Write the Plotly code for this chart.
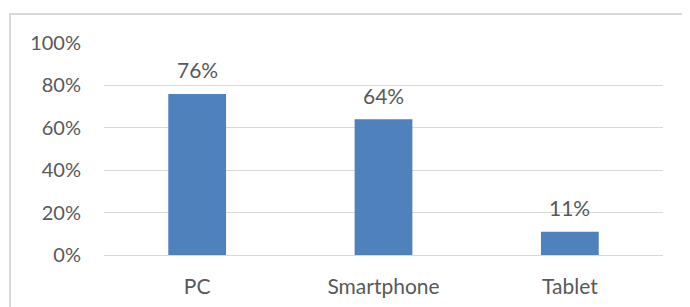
import plotly.graph_objects as go

categories = ["PC", "Smartphone", "Tablet"]
values = [0.76, 0.64, 0.11]
tick_vals = [0, 0.2, 0.4, 0.6, 0.8, 1.0]
tick_text = ["0%", "20%", "40%", "60%", "80%", "100%"]

# page body has an 8px margin; figure size/margins compensate for it
OFF = 8
W, H = 690 - OFF, 307 - OFF
L, T = 104 - OFF, 43 - OFF
R = W - (663 - OFF)
B = H - (255 - OFF)
pw, ph = W - L - R, H - T - B

font_fam = "Lato, 'Open Sans', sans-serif"
txt_col = "#595959"

fig = go.Figure(go.Bar(
    x=categories, y=values,
    marker=dict(color="#4F81BD", line=dict(width=0)),
    width=0.31,
    hoverinfo="skip",
))

for c, v in zip(categories, values):
    fig.add_annotation(x=c, y=v, text=f"{round(v*100)}%", showarrow=False,
                       yanchor="middle", yshift=24,
                       font=dict(family=font_fam, size=21, color=txt_col))

def px_to_paper_x(px):
    return (px - OFF - L) / pw

def px_to_paper_y(py):
    return (H - B - (py - OFF)) / ph

x0, x1 = px_to_paper_x(10), px_to_paper_x(700)
y0, y1 = px_to_paper_y(320), px_to_paper_y(14)
fig.add_shape(type="path", xref="paper", yref="paper",
              path=f"M {x0} {y0} L {x0} {y1} L {x1} {y1}",
              line=dict(color="#D9D9D9", width=2))

fig.update_layout(
    width=W, height=H,
    margin=dict(l=L, r=R, t=T, b=B),
    paper_bgcolor="white", plot_bgcolor="white",
    showlegend=False,
    font=dict(family=font_fam, size=20, color=txt_col),
    xaxis=dict(showgrid=False, showline=False, zeroline=False, ticks="",
               automargin=False,
               tickfont=dict(size=21, color=txt_col), ticklabelstandoff=17),
    yaxis=dict(range=[0, 1.0], tickvals=tick_vals, ticktext=tick_text,
               automargin=False,
               showgrid=True, gridcolor="#D9D9D9", gridwidth=1,
               zeroline=True, zerolinecolor="#D9D9D9", zerolinewidth=1,
               showline=False, ticks="", ticklabelstandoff=22,
               tickfont=dict(size=20, color=txt_col)),
)

fig.write_html("out.html")
